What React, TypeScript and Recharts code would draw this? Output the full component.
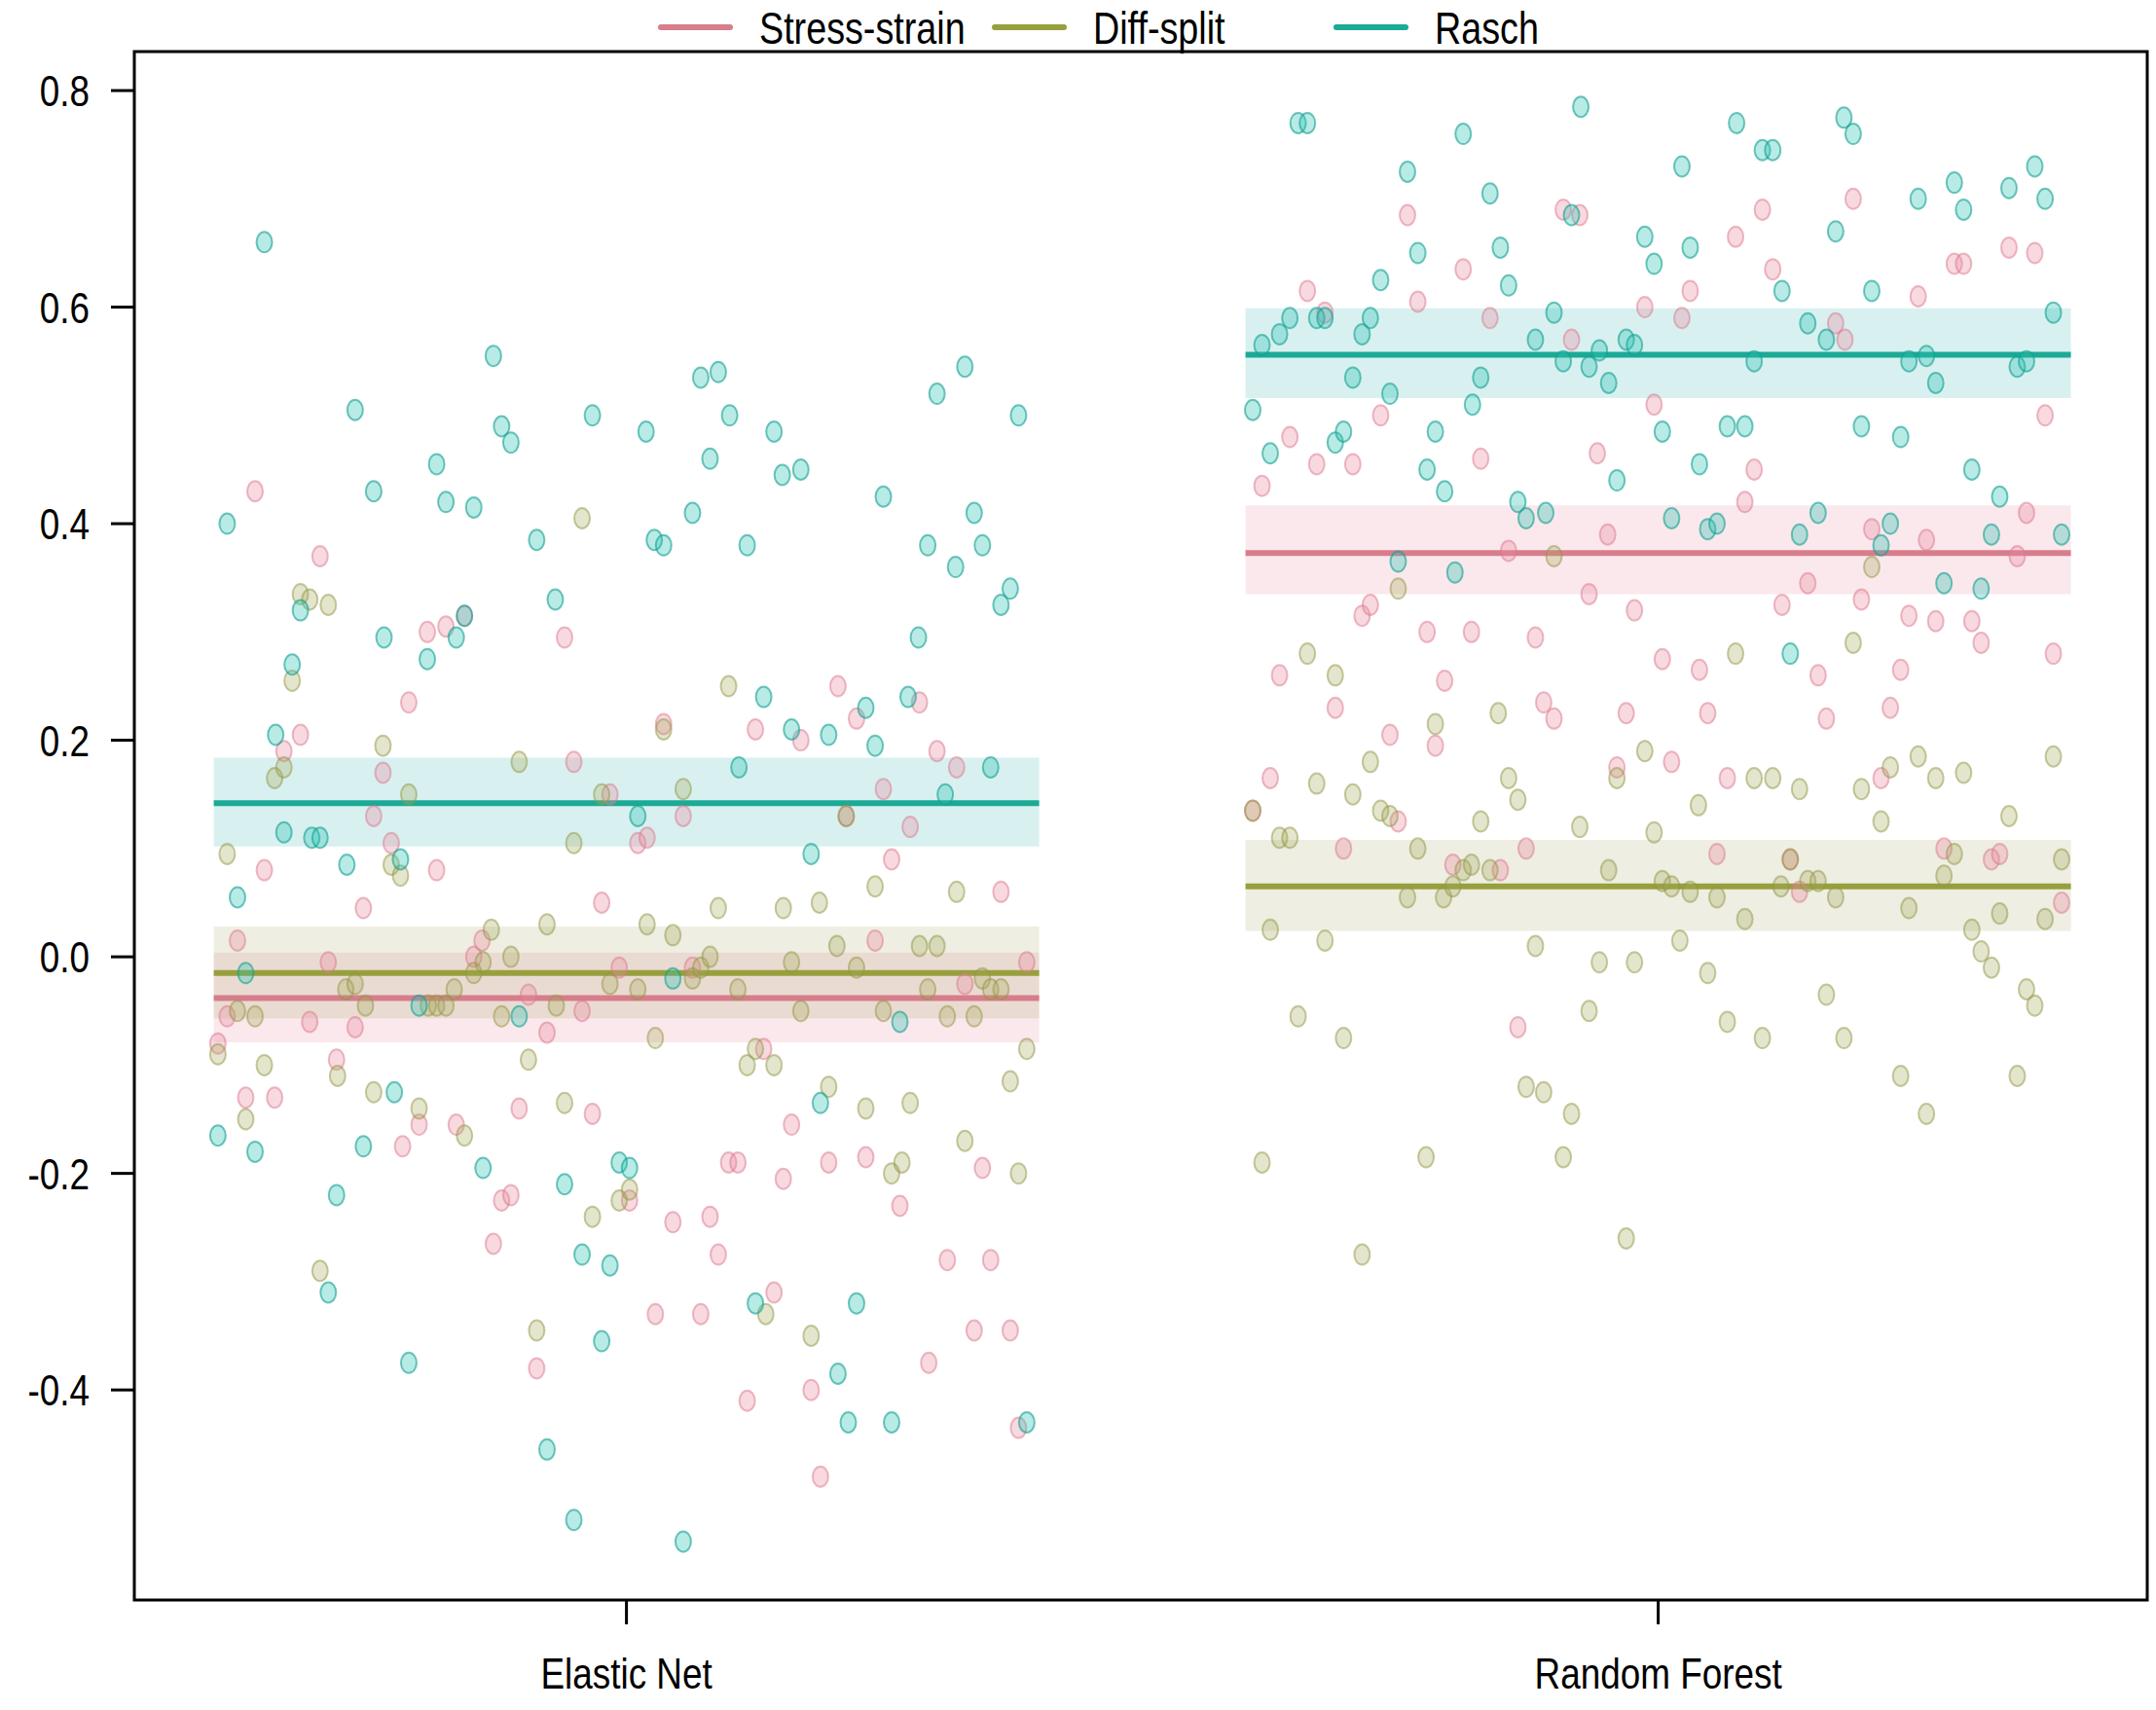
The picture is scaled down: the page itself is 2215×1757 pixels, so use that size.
import {
  ComposedChart,
  Scatter,
  XAxis,
  YAxis,
  ReferenceArea,
  ReferenceLine,
} from "recharts";

// categories on the x axis
const models = ["Elastic Net", "Random Forest"];
const seriesNames = ["Stress-strain", "Diff-split", "Rasch"];
const seriesColors = ["#D77D8C", "#97A03C", "#1BAA96"];
const yTicks = [-0.4, -0.2, 0.0, 0.2, 0.4, 0.6, 0.8];

// group means with their bands, one value per model
const meanStress = [-0.038, 0.373];
const lowStress = [-0.079, 0.335];
const highStress = [0.004, 0.417];
const meanDiff = [-0.015, 0.065];
const lowDiff = [-0.057, 0.024];
const highDiff = [0.028, 0.108];
const meanRasch = [0.142, 0.556];
const lowRasch = [0.102, 0.516];
const highRasch = [0.184, 0.599];

// jittered points: [offset from model position, value]
const enStress = [
  [-0.396, -0.08], [-0.387, -0.055], [-0.377, 0.015], [-0.369, -0.13], [-0.36, 0.43], [-0.351, 0.08],
  [-0.341, -0.13], [-0.332, 0.19], [-0.316, 0.205], [-0.307, -0.06], [-0.297, 0.37], [-0.289, -0.005],
  [-0.281, -0.095], [-0.263, -0.065], [-0.255, 0.045], [-0.245, 0.13], [-0.236, 0.17], [-0.228, 0.105],
  [-0.217, -0.175], [-0.211, 0.235], [-0.201, -0.155], [-0.193, 0.3], [-0.184, 0.08], [-0.175, 0.305],
  [-0.165, -0.155], [-0.157, 0.315], [-0.148, 0.0], [-0.14, 0.015], [-0.129, -0.265], [-0.121, -0.225],
  [-0.112, -0.22], [-0.104, -0.14], [-0.095, -0.035], [-0.087, -0.38], [-0.077, -0.07], [-0.06, 0.295],
  [-0.051, 0.18], [-0.043, -0.05], [-0.033, -0.145], [-0.024, 0.05], [-0.016, 0.15], [-0.007, -0.01],
  [0.003, -0.225], [0.011, 0.105], [0.02, 0.11], [0.028, -0.33], [0.036, 0.215], [0.045, -0.245],
  [0.055, 0.13], [0.064, -0.01], [0.072, -0.33], [0.081, -0.24], [0.089, -0.275], [0.099, -0.19],
  [0.108, -0.19], [0.117, -0.41], [0.125, 0.21], [0.133, -0.085], [0.143, -0.31], [0.152, -0.205],
  [0.16, -0.155], [0.169, 0.2], [0.179, -0.4], [0.188, -0.48], [0.196, -0.19], [0.205, 0.25],
  [0.213, 0.13], [0.223, 0.22], [0.232, -0.185], [0.241, 0.015], [0.249, 0.155], [0.257, 0.09],
  [0.265, -0.23], [0.275, 0.12], [0.284, 0.235], [0.293, -0.375], [0.301, 0.19], [0.311, -0.28],
  [0.32, 0.175], [0.328, -0.025], [0.337, -0.345], [0.345, -0.195], [0.353, -0.28], [0.363, 0.06],
  [0.372, -0.345], [0.38, -0.435], [0.388, -0.005],
];

const enDiff = [
  [-0.396, -0.09], [-0.387, 0.095], [-0.377, -0.05], [-0.369, -0.15], [-0.36, -0.055], [-0.351, -0.1],
  [-0.341, 0.165], [-0.332, 0.175], [-0.324, 0.255], [-0.316, 0.335], [-0.307, 0.33], [-0.297, -0.29],
  [-0.289, 0.325], [-0.28, -0.11], [-0.272, -0.03], [-0.263, -0.025], [-0.253, -0.045], [-0.245, -0.125],
  [-0.236, 0.195], [-0.228, 0.085], [-0.219, 0.075], [-0.211, 0.15], [-0.201, -0.14], [-0.192, -0.045],
  [-0.184, -0.045], [-0.175, -0.045], [-0.167, -0.03], [-0.157, -0.165], [-0.148, -0.015], [-0.139, -0.005],
  [-0.131, 0.025], [-0.121, -0.055], [-0.112, 0.0], [-0.104, 0.18], [-0.095, -0.095], [-0.087, -0.345],
  [-0.077, 0.03], [-0.068, -0.045], [-0.06, -0.135], [-0.051, 0.105], [-0.043, 0.405], [-0.033, -0.24],
  [-0.024, 0.15], [-0.016, -0.025], [-0.007, -0.225], [0.003, -0.215], [0.011, -0.03], [0.02, 0.03],
  [0.028, -0.075], [0.036, 0.21], [0.045, 0.02], [0.055, 0.155], [0.064, -0.02], [0.072, -0.01],
  [0.081, 0.0], [0.089, 0.045], [0.099, 0.25], [0.108, -0.03], [0.117, -0.1], [0.125, -0.085],
  [0.135, -0.33], [0.143, -0.1], [0.152, 0.045], [0.16, -0.005], [0.169, -0.05], [0.179, -0.35],
  [0.187, 0.05], [0.196, -0.12], [0.204, 0.01], [0.213, 0.13], [0.223, -0.01], [0.232, -0.14],
  [0.241, 0.065], [0.249, -0.05], [0.257, -0.2], [0.267, -0.19], [0.275, -0.135], [0.284, 0.01],
  [0.292, -0.03], [0.301, 0.01], [0.311, -0.055], [0.32, 0.06], [0.328, -0.17], [0.337, -0.055],
  [0.345, -0.02], [0.353, -0.03], [0.363, -0.03], [0.372, -0.115], [0.38, -0.2], [0.388, -0.085],
];

const enRasch = [
  [-0.396, -0.165], [-0.387, 0.4], [-0.377, 0.055], [-0.369, -0.015], [-0.36, -0.18], [-0.351, 0.66],
  [-0.34, 0.205], [-0.332, 0.115], [-0.324, 0.27], [-0.316, 0.32], [-0.305, 0.11], [-0.297, 0.11],
  [-0.289, -0.31], [-0.281, -0.22], [-0.271, 0.085], [-0.263, 0.505], [-0.255, -0.175], [-0.245, 0.43],
  [-0.235, 0.295], [-0.225, -0.125], [-0.219, 0.09], [-0.211, -0.375], [-0.201, -0.045], [-0.193, 0.275],
  [-0.184, 0.455], [-0.175, 0.42], [-0.165, 0.295], [-0.157, 0.315], [-0.148, 0.415], [-0.139, -0.195],
  [-0.129, 0.555], [-0.121, 0.49], [-0.112, 0.475], [-0.104, -0.055], [-0.087, 0.385], [-0.077, -0.455],
  [-0.069, 0.33], [-0.06, -0.21], [-0.051, -0.52], [-0.043, -0.275], [-0.033, 0.5], [-0.024, -0.355],
  [-0.016, -0.285], [-0.007, -0.19], [0.003, -0.195], [0.011, 0.13], [0.019, 0.485], [0.027, 0.385],
  [0.036, 0.38], [0.045, -0.02], [0.055, -0.54], [0.064, 0.41], [0.072, 0.535], [0.081, 0.46],
  [0.089, 0.54], [0.1, 0.5], [0.109, 0.175], [0.117, 0.38], [0.125, -0.32], [0.133, 0.24],
  [0.143, 0.485], [0.151, 0.445], [0.16, 0.21], [0.169, 0.45], [0.179, 0.095], [0.188, -0.135],
  [0.196, 0.205], [0.205, -0.385], [0.215, -0.43], [0.223, -0.32], [0.232, 0.23], [0.241, 0.195],
  [0.249, 0.425], [0.257, -0.43], [0.265, -0.06], [0.273, 0.24], [0.283, 0.295], [0.292, 0.38],
  [0.301, 0.52], [0.309, 0.15], [0.319, 0.36], [0.328, 0.545], [0.337, 0.41], [0.345, 0.38],
  [0.353, 0.175], [0.363, 0.325], [0.372, 0.34], [0.38, 0.5], [0.388, -0.43],
];

const rfStress = [
  [-0.393, 0.135], [-0.384, 0.435], [-0.376, 0.165], [-0.367, 0.26], [-0.357, 0.48], [-0.34, 0.615],
  [-0.331, 0.455], [-0.323, 0.595], [-0.313, 0.23], [-0.305, 0.1], [-0.296, 0.455], [-0.287, 0.315],
  [-0.279, 0.325], [-0.269, 0.5], [-0.26, 0.205], [-0.252, 0.125], [-0.243, 0.685], [-0.233, 0.605],
  [-0.224, 0.3], [-0.216, 0.195], [-0.207, 0.255], [-0.199, 0.085], [-0.189, 0.635], [-0.181, 0.3],
  [-0.172, 0.46], [-0.163, 0.59], [-0.153, 0.08], [-0.145, 0.375], [-0.136, -0.065], [-0.128, 0.1],
  [-0.119, 0.295], [-0.111, 0.235], [-0.101, 0.22], [-0.092, 0.69], [-0.084, 0.57], [-0.076, 0.685],
  [-0.067, 0.335], [-0.059, 0.465], [-0.049, 0.39], [-0.04, 0.175], [-0.031, 0.225], [-0.023, 0.32],
  [-0.013, 0.6], [-0.004, 0.51], [0.004, 0.275], [0.013, 0.18], [0.023, 0.59], [0.031, 0.615],
  [0.04, 0.265], [0.048, 0.225], [0.057, 0.095], [0.067, 0.165], [0.075, 0.665], [0.084, 0.42],
  [0.093, 0.45], [0.101, 0.69], [0.111, 0.635], [0.12, 0.325], [0.128, 0.09], [0.137, 0.06],
  [0.145, 0.345], [0.155, 0.26], [0.163, 0.22], [0.172, 0.585], [0.181, 0.57], [0.189, 0.7],
  [0.197, 0.33], [0.207, 0.395], [0.216, 0.165], [0.225, 0.23], [0.235, 0.265], [0.243, 0.315],
  [0.252, 0.61], [0.26, 0.385], [0.269, 0.31], [0.277, 0.1], [0.287, 0.64], [0.296, 0.64],
  [0.304, 0.31], [0.313, 0.29], [0.323, 0.09], [0.331, 0.095], [0.34, 0.655], [0.348, 0.37],
  [0.357, 0.41], [0.365, 0.65], [0.375, 0.5], [0.383, 0.28], [0.391, 0.05],
];

const rfDiff = [
  [-0.393, 0.135], [-0.384, -0.19], [-0.376, 0.025], [-0.367, 0.11], [-0.357, 0.11], [-0.349, -0.055],
  [-0.34, 0.28], [-0.331, 0.16], [-0.323, 0.015], [-0.313, 0.26], [-0.305, -0.075], [-0.296, 0.15],
  [-0.287, -0.275], [-0.279, 0.18], [-0.269, 0.135], [-0.26, 0.13], [-0.252, 0.34], [-0.243, 0.055],
  [-0.233, 0.1], [-0.225, -0.185], [-0.216, 0.215], [-0.208, 0.055], [-0.199, 0.065], [-0.189, 0.08],
  [-0.181, 0.085], [-0.172, 0.125], [-0.163, 0.08], [-0.155, 0.225], [-0.145, 0.165], [-0.136, 0.145],
  [-0.128, -0.12], [-0.119, 0.01], [-0.111, -0.125], [-0.101, 0.37], [-0.092, -0.185], [-0.084, -0.145],
  [-0.076, 0.12], [-0.067, -0.05], [-0.057, -0.005], [-0.048, 0.08], [-0.04, 0.165], [-0.031, -0.26],
  [-0.023, -0.005], [-0.013, 0.19], [-0.004, 0.115], [0.004, 0.07], [0.013, 0.065], [0.021, 0.015],
  [0.031, 0.06], [0.039, 0.14], [0.048, -0.015], [0.057, 0.055], [0.067, -0.06], [0.075, 0.28],
  [0.084, 0.035], [0.093, 0.165], [0.101, -0.075], [0.111, 0.165], [0.119, 0.065], [0.128, 0.09],
  [0.137, 0.155], [0.145, 0.07], [0.155, 0.07], [0.163, -0.035], [0.172, 0.055], [0.18, -0.075],
  [0.189, 0.29], [0.197, 0.155], [0.207, 0.36], [0.216, 0.125], [0.225, 0.175], [0.235, -0.11],
  [0.243, 0.045], [0.252, 0.185], [0.26, -0.145], [0.269, 0.165], [0.277, 0.075], [0.287, 0.095],
  [0.296, 0.17], [0.304, 0.025], [0.313, 0.005], [0.323, -0.01], [0.331, 0.04], [0.34, 0.13],
  [0.348, -0.11], [0.357, -0.03], [0.365, -0.045], [0.375, 0.035], [0.383, 0.185], [0.391, 0.09],
];

const rfRasch = [
  [-0.393, 0.505], [-0.384, 0.565], [-0.376, 0.465], [-0.367, 0.575], [-0.357, 0.59], [-0.349, 0.77],
  [-0.34, 0.77], [-0.331, 0.59], [-0.323, 0.59], [-0.313, 0.475], [-0.305, 0.485], [-0.296, 0.535],
  [-0.287, 0.575], [-0.279, 0.59], [-0.269, 0.625], [-0.26, 0.52], [-0.252, 0.365], [-0.243, 0.725],
  [-0.233, 0.65], [-0.224, 0.45], [-0.216, 0.485], [-0.207, 0.43], [-0.197, 0.355], [-0.189, 0.76],
  [-0.18, 0.51], [-0.172, 0.535], [-0.163, 0.705], [-0.153, 0.655], [-0.145, 0.62], [-0.136, 0.42],
  [-0.128, 0.405], [-0.119, 0.57], [-0.109, 0.41], [-0.101, 0.595], [-0.092, 0.55], [-0.084, 0.685],
  [-0.075, 0.785], [-0.067, 0.545], [-0.057, 0.56], [-0.048, 0.53], [-0.04, 0.44], [-0.031, 0.57],
  [-0.023, 0.565], [-0.013, 0.665], [-0.004, 0.64], [0.004, 0.485], [0.013, 0.405], [0.023, 0.73],
  [0.031, 0.655], [0.04, 0.455], [0.048, 0.395], [0.057, 0.4], [0.067, 0.49], [0.076, 0.77],
  [0.084, 0.49], [0.093, 0.55], [0.101, 0.745], [0.111, 0.745], [0.12, 0.615], [0.128, 0.28],
  [0.137, 0.39], [0.145, 0.585], [0.155, 0.41], [0.163, 0.57], [0.172, 0.67], [0.18, 0.775],
  [0.189, 0.76], [0.197, 0.49], [0.207, 0.615], [0.216, 0.38], [0.225, 0.4], [0.235, 0.48],
  [0.243, 0.55], [0.252, 0.7], [0.26, 0.555], [0.269, 0.53], [0.277, 0.345], [0.287, 0.715],
  [0.296, 0.69], [0.304, 0.45], [0.313, 0.34], [0.323, 0.39], [0.331, 0.425], [0.34, 0.71],
  [0.348, 0.545], [0.357, 0.55], [0.365, 0.73], [0.375, 0.7], [0.383, 0.595], [0.391, 0.39],
];

const FONT = "'Liberation Sans', Arial, sans-serif";
const NARROW = 0.82;

const toPoints = (en: number[][], rf: number[][]) => [
  ...en.map(([o, v]) => ({ x: 1 + o, y: v })),
  ...rf.map(([o, v]) => ({ x: 2 + o, y: v })),
];

const scatterSets = [
  { pts: toPoints(enStress, rfStress), fill: "rgba(235,140,160,0.33)", stroke: "rgba(220,120,140,0.5)" },
  { pts: toPoints(enDiff, rfDiff), fill: "rgba(165,170,90,0.3)", stroke: "rgba(145,150,70,0.5)" },
  { pts: toPoints(enRasch, rfRasch), fill: "rgba(40,195,180,0.33)", stroke: "rgba(20,160,145,0.6)" },
];

const bands = [
  { mean: meanStress, low: lowStress, high: highStress, fill: "rgba(235,150,170,0.22)" },
  { mean: meanDiff, low: lowDiff, high: highDiff, fill: "rgba(170,170,110,0.2)" },
  { mean: meanRasch, low: lowRasch, high: highRasch, fill: "rgba(40,180,170,0.18)" },
];

const X_MIN = 0.523;
const X_MAX = 2.474;
const Y_MIN = -0.594;
const Y_MAX = 0.836;
const HALF = 0.4;

function Dot(props: any) {
  const { cx, cy, fill, stroke } = props;
  if (cx == null || cy == null) return null;
  return <ellipse cx={cx} cy={cy} rx={8} ry={10.5} fill={fill} stroke={stroke} strokeWidth={2} />;
}

// condensed text, the source uses a narrow sans face
function NarrowText({ x, y, anchor, dy, size, children }: any) {
  return (
    <g transform={`translate(${x},${y}) scale(${NARROW},1)`}>
      <text x={0} y={0} dy={dy} textAnchor={anchor} fontSize={size} fontFamily={FONT} fill="#000">
        {children}
      </text>
    </g>
  );
}

function YTick(props: any) {
  const { x, y, payload } = props;
  return (
    <NarrowText x={x} y={y} anchor="end" dy="0.355em" size={45}>
      {Number(payload.value).toFixed(1)}
    </NarrowText>
  );
}

function XTick(props: any) {
  const { x, y, payload } = props;
  return (
    <NarrowText x={x} y={y} anchor="middle" dy="0.71em" size={45}>
      {models[Math.round(payload.value) - 1] ?? ""}
    </NarrowText>
  );
}

export default function App() {
  const legendStarts = [679, 1022, 1373];
  return (
    <div style={{ position: "absolute", left: 0, top: 0, width: 2215, height: 1757, background: "#fff" }}>
      <ComposedChart
        width={2215}
        height={1757}
        margin={{ top: 53, right: 9, bottom: 0, left: 0 }}
      >
        <XAxis
          type="number"
          dataKey="x"
          domain={[X_MIN, X_MAX]}
          ticks={[1, 2]}
          allowDataOverflow
          height={113}
          axisLine={false}
          tickSize={25}
          tickMargin={34}
          tickLine={{ stroke: "#000", strokeWidth: 3 }}
          tick={<XTick />}
        />
        <YAxis
          type="number"
          dataKey="y"
          domain={[Y_MIN, Y_MAX]}
          ticks={yTicks}
          allowDataOverflow
          width={138}
          axisLine={false}
          tickSize={24}
          tickMargin={22}
          tickLine={{ stroke: "#000", strokeWidth: 3 }}
          tick={<YTick />}
        />
        {scatterSets.map((s, i) => (
          <Scatter
            key={seriesNames[i]}
            name={seriesNames[i]}
            data={s.pts}
            fill={s.fill}
            stroke={s.stroke}
            shape={<Dot fill={s.fill} stroke={s.stroke} />}
            isAnimationActive={false}
          />
        ))}
        {bands.map((b, i) =>
          models.map((m, k) => (
            <ReferenceArea
              key={`band-${i}-${m}`}
              x1={k + 1 - HALF}
              x2={k + 1 + HALF}
              y1={b.low[k]}
              y2={b.high[k]}
              fill={b.fill}
              fillOpacity={1}
              stroke="none"
            />
          ))
        )}
        {bands.map((b, i) =>
          models.map((m, k) => (
            <ReferenceLine
              key={`mean-${i}-${m}`}
              segment={[
                { x: k + 1 - HALF, y: b.mean[k] },
                { x: k + 1 + HALF, y: b.mean[k] },
              ]}
              stroke={seriesColors[i]}
              strokeWidth={6}
            />
          ))
        )}
        <ReferenceArea
          x1={X_MIN}
          x2={X_MAX}
          y1={Y_MIN}
          y2={Y_MAX}
          fill="none"
          stroke="#000"
          strokeWidth={3}
        />
      </ComposedChart>
      <svg
        width={2215}
        height={60}
        style={{ position: "absolute", left: 0, top: 0, pointerEvents: "none" }}
      >
        {seriesNames.map((name, i) => (
          <g key={name}>
            <line
              x1={legendStarts[i]}
              x2={legendStarts[i] + 71}
              y1={28}
              y2={28}
              stroke={seriesColors[i]}
              strokeWidth={6}
              strokeLinecap="round"
            />
            <NarrowText x={legendStarts[i] + 101} y={45} anchor="start" dy={0} size={46}>
              {name}
            </NarrowText>
          </g>
        ))}
      </svg>
    </div>
  );
}
